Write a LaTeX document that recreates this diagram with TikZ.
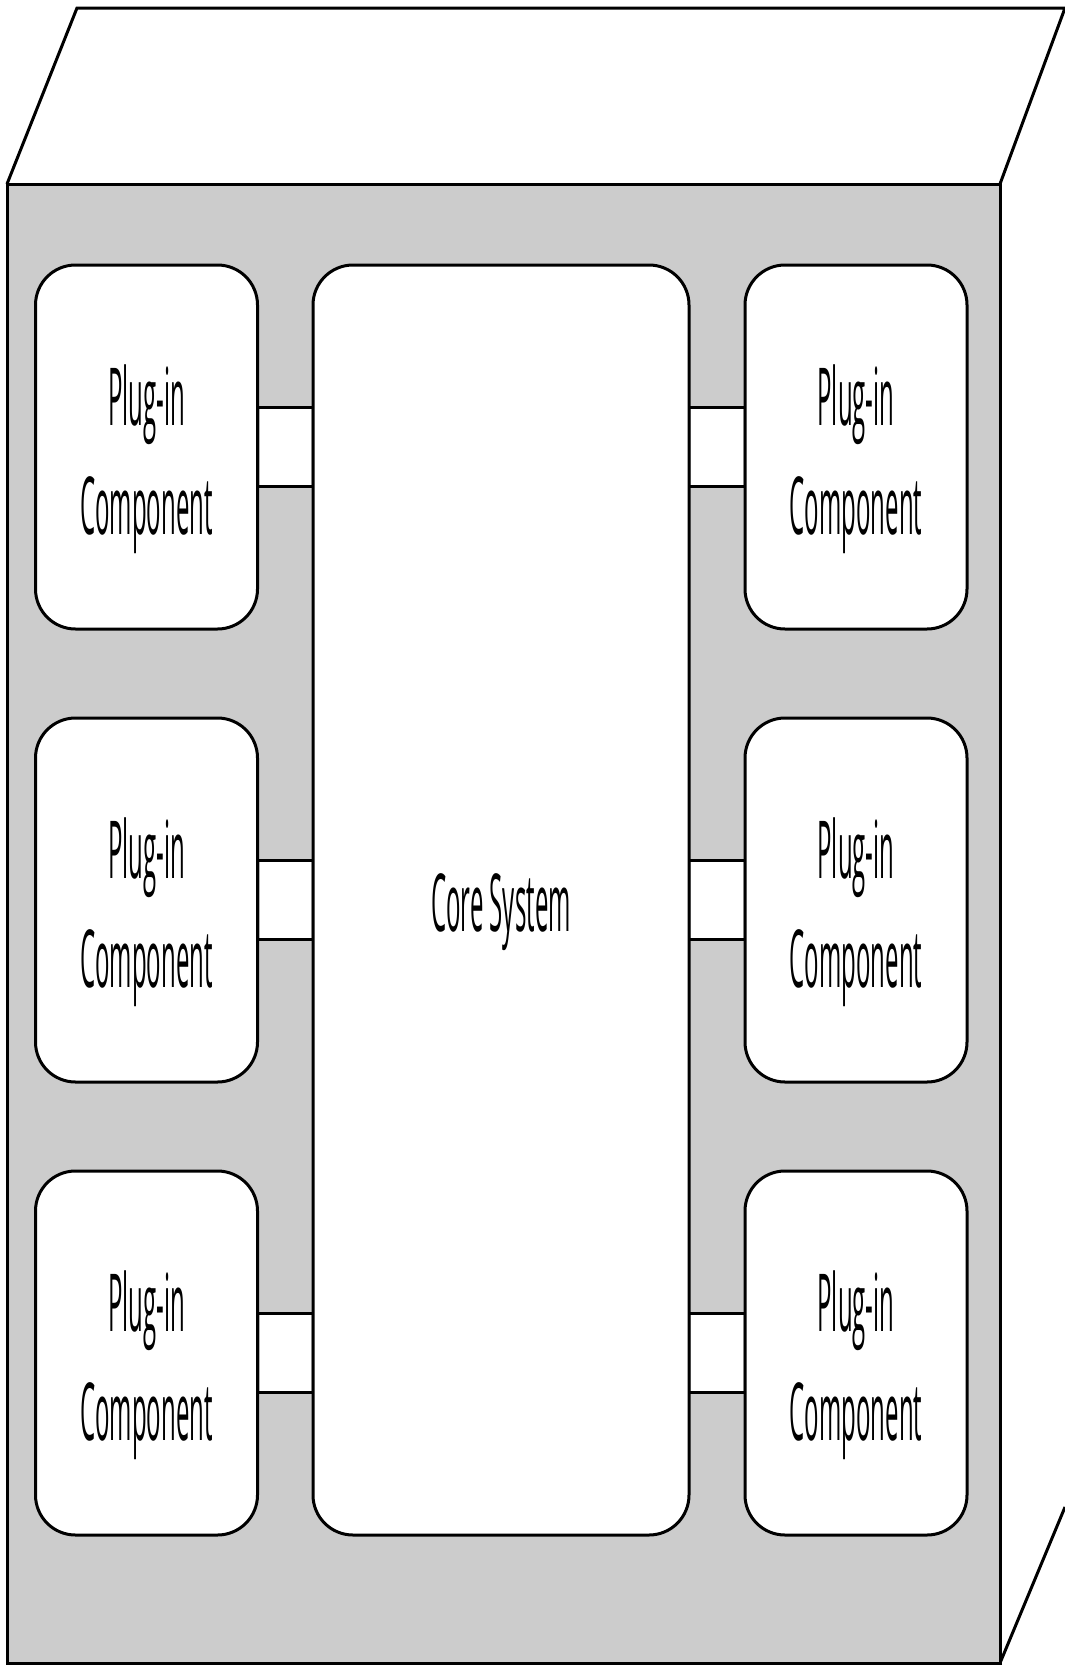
\documentclass[tikz,border=0pt]{standalone}
\usepackage{fontspec}
\setmainfont{Open Sans}
\usetikzlibrary{calc}

% squeezed label text, set a little low
\newcommand{\narrowtext}[1]{\raisebox{-6pt}[\height][\depth]{\scalebox{0.6}[1]{#1}}}

\tikzset{
    edge/.style={line width=1.5pt},
    plugbox/.style={draw, line width=1.5pt, fill=white, rounded corners=20pt,
        xscale=0.5, minimum width=222pt, minimum height=182pt,
        inner sep=0pt, align=center, font=\fontsize{40}{54.5}\selectfont},
    corebox/.style={plugbox, minimum width=376pt, minimum height=635pt},
    plugline/.style={line width=1.5pt}
}

\begin{document}
\begin{tikzpicture}[x=0.5pt,y=-0.5pt]
    \useasboundingbox (0,0) rectangle (1065,1665);

    % Define box corners
    \coordinate (F1) at (7,184);   % front top left
    \coordinate (F2) at (1000,184); % front top right
    \coordinate (F3) at (1000,1663); % front bottom right
    \coordinate (B1) at (77,8);    % back top left
    \coordinate (B2) at (1065,8);  % back top right
    \coordinate (B3) at (1065,1507); % back bottom right

    % Draw box faces
    \draw[edge,fill=white] (F1) -- (B1) -- (B2) -- (F2);
    \draw[edge] (F3) -- (B3);
    \draw[edge,fill=black!20] (F1) rectangle (F3);

    % Core in the middle
    \node[corebox] (core) at (501,900) {\narrowtext{Core System}};

    % Plug-ins on both sides
    \node[plugbox] (left1) at (146.5,447) {\narrowtext{Plug-in}\\\narrowtext{Component}};
    \node[plugbox] (left2) at (146.5,900) {\narrowtext{Plug-in}\\\narrowtext{Component}};
    \node[plugbox] (left3) at (146.5,1353) {\narrowtext{Plug-in}\\\narrowtext{Component}};
    \node[plugbox] (right1) at (856,447) {\narrowtext{Plug-in}\\\narrowtext{Component}};
    \node[plugbox] (right2) at (856,900) {\narrowtext{Plug-in}\\\narrowtext{Component}};
    \node[plugbox] (right3) at (856,1353) {\narrowtext{Plug-in}\\\narrowtext{Component}};

    % Connect plug-ins to the core
    \foreach \i in {1,2,3} {
        \fill[white] ($(left\i.east)+(1.4,-39.5)$) rectangle ($(left\i.east -| core.west)+(-1.4,39.5)$);
        \draw[plugline] ($(left\i.east)+(0,-39.5)$) -- ($(left\i.east -| core.west)+(0,-39.5)$);
        \draw[plugline] ($(left\i.east)+(0,39.5)$) -- ($(left\i.east -| core.west)+(0,39.5)$);
        \fill[white] ($(core.east |- right\i.west)+(1.4,-39.5)$) rectangle ($(right\i.west)+(-1.4,39.5)$);
        \draw[plugline] ($(core.east |- right\i.west)+(0,-39.5)$) -- ($(right\i.west)+(0,-39.5)$);
        \draw[plugline] ($(core.east |- right\i.west)+(0,39.5)$) -- ($(right\i.west)+(0,39.5)$);
    }

\end{tikzpicture}
\end{document}
